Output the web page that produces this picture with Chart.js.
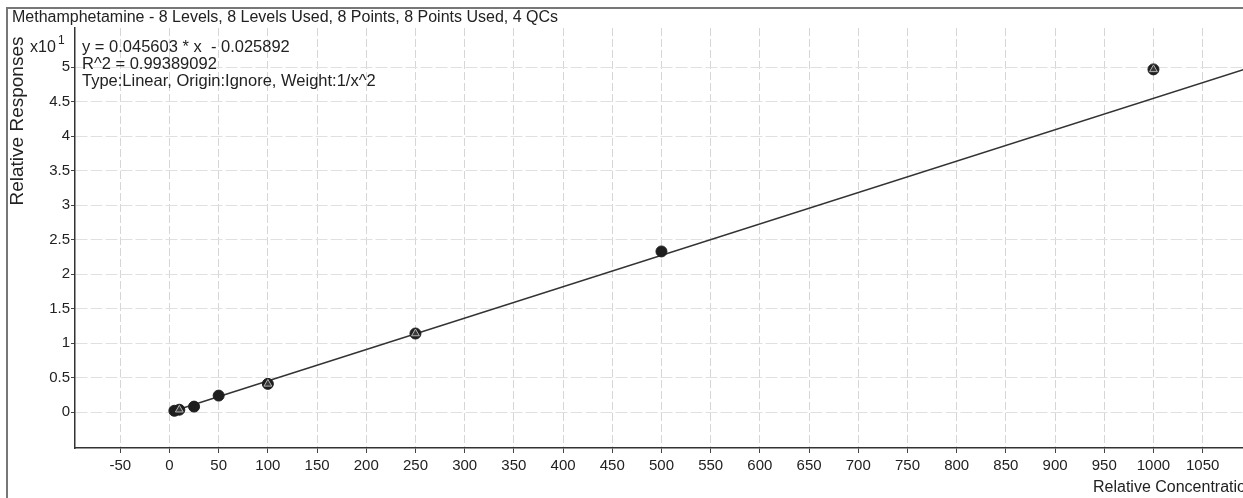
<!DOCTYPE html>
<html>
<head>
<meta charset="utf-8">
<script src="https://cdn.jsdelivr.net/npm/chart.js@4/dist/chart.umd.min.js"></script>
<style>
  body { margin: 0; background: #fff; overflow: hidden; }
  canvas { display: block; }
</style>
</head>
<body>
<canvas id="calChart" width="1250" height="498"></canvas>
<script>
// values are in units of x10^1 on the response axis
const calX = [5, 10, 25, 50, 100, 250, 500, 1000];
const calY = [0.02, 0.035, 0.08, 0.24, 0.41, 1.14, 2.33, 4.97];
const qcX = [10, 100, 250, 1000];
const qcY = [0.035, 0.41, 1.14, 4.97];
// fitted line end points
const fitX = [5, 1092];
const fitY = [0.02, 4.97];

const xTicks = [-50, 0, 50, 100, 150, 200, 250, 300, 350, 400, 450, 500, 550, 600, 650, 700, 750, 800, 850, 900, 950, 1000, 1050];
const yTicks = [0, 0.5, 1, 1.5, 2, 2.5, 3, 3.5, 4, 4.5, 5];

const titleText = 'Methamphetamine - 8 Levels, 8 Levels Used, 8 Points, 8 Points Used, 4 QCs';
const infoLines = ['y = 0.045603 * x  - 0.025892', 'R^2 = 0.99389092', 'Type:Linear, Origin:Ignore, Weight:1/x^2'];

const FONT = '"Liberation Sans", Arial, sans-serif';
const INK = '#222';

function toPoints(xs, ys) {
    return xs.map((x, i) => ({ x: x, y: ys[i] }));
}

// frame, title and the text block in the top left
const textPlugin = {
    id: 'textPlugin',
    afterDraw(chart) {
        const ctx = chart.ctx;
        ctx.save();
        ctx.strokeStyle = '#777';
        ctx.lineWidth = 2;
        ctx.beginPath();
        ctx.moveTo(7, 498);
        ctx.lineTo(7, 8);
        ctx.lineTo(1250, 8);
        ctx.stroke();

        ctx.fillStyle = INK;
        ctx.textBaseline = 'middle';
        ctx.textAlign = 'left';
        ctx.font = '16px ' + FONT;
        ctx.fillText(titleText, 12, 18);

        ctx.font = '16.5px ' + FONT;
        infoLines.forEach((t, i) => ctx.fillText(t, 82, 47 + i * 17));

        ctx.font = '16px ' + FONT;
        ctx.fillText('x10', 30, 48);
        ctx.font = '12px ' + FONT;
        ctx.fillText('1', 58, 41);

        ctx.font = '16px ' + FONT;
        ctx.fillText('Relative Concentration', 1093, 488);

        ctx.translate(18, 121);
        ctx.rotate(-Math.PI / 2);
        ctx.textAlign = 'center';
        ctx.font = '19px ' + FONT;
        ctx.fillText('Relative Responses', 0, 0);
        ctx.restore();
    }
};

new Chart(document.getElementById('calChart'), {
    type: 'scatter',
    data: {
        datasets: [
            {
                label: 'Fit',
                data: toPoints(fitX, fitY),
                showLine: true,
                borderColor: '#333',
                borderWidth: 1.5,
                pointRadius: 0,
                order: 3
            },
            {
                label: 'Calibration',
                data: toPoints(calX, calY),
                pointStyle: 'circle',
                pointRadius: 5.5,
                backgroundColor: '#1e1e1e',
                borderColor: '#1e1e1e',
                borderWidth: 1,
                order: 2
            },
            {
                label: 'QC',
                data: toPoints(qcX, qcY),
                pointStyle: 'triangle',
                pointRadius: 4.5,
                backgroundColor: '#3a3a3a',
                borderColor: '#b5b5b5',
                borderWidth: 1,
                order: 1
            }
        ]
    },
    options: {
        responsive: false,
        animation: false,
        layout: { padding: { top: 28, left: 0, right: 0, bottom: 0 } },
        plugins: {
            legend: { display: false },
            tooltip: { enabled: false }
        },
        scales: {
            x: {
                type: 'linear',
                min: -96,
                max: 1091.5,
                afterBuildTicks: s => { s.ticks = xTicks.map(v => ({ value: v })); },
                afterFit: s => { s.height = 50; },
                grid: {
                    color: '#d6d6d6',
                    tickColor: '#444',
                    tickLength: 5
                },
                border: { color: '#333', width: 1.5, dash: [8, 3] },
                ticks: {
                    color: INK,
                    padding: 4,
                    maxRotation: 0,
                    autoSkip: false,
                    font: { family: FONT, size: 15 },
                    callback: v => String(v)
                }
            },
            y: {
                type: 'linear',
                min: -0.52,
                max: 5.57,
                afterBuildTicks: s => { s.ticks = yTicks.map(v => ({ value: v })); },
                afterFit: s => { s.width = 75; },
                grid: {
                    color: '#e0e0e0',
                    tickColor: '#444',
                    tickLength: 4
                },
                border: { color: '#333', width: 1.5, dash: [12, 3] },
                ticks: {
                    color: INK,
                    padding: 1,
                    autoSkip: false,
                    font: { family: FONT, size: 15 },
                    callback: v => String(v)
                }
            }
        }
    },
    plugins: [textPlugin]
});
</script>
</body>
</html>
